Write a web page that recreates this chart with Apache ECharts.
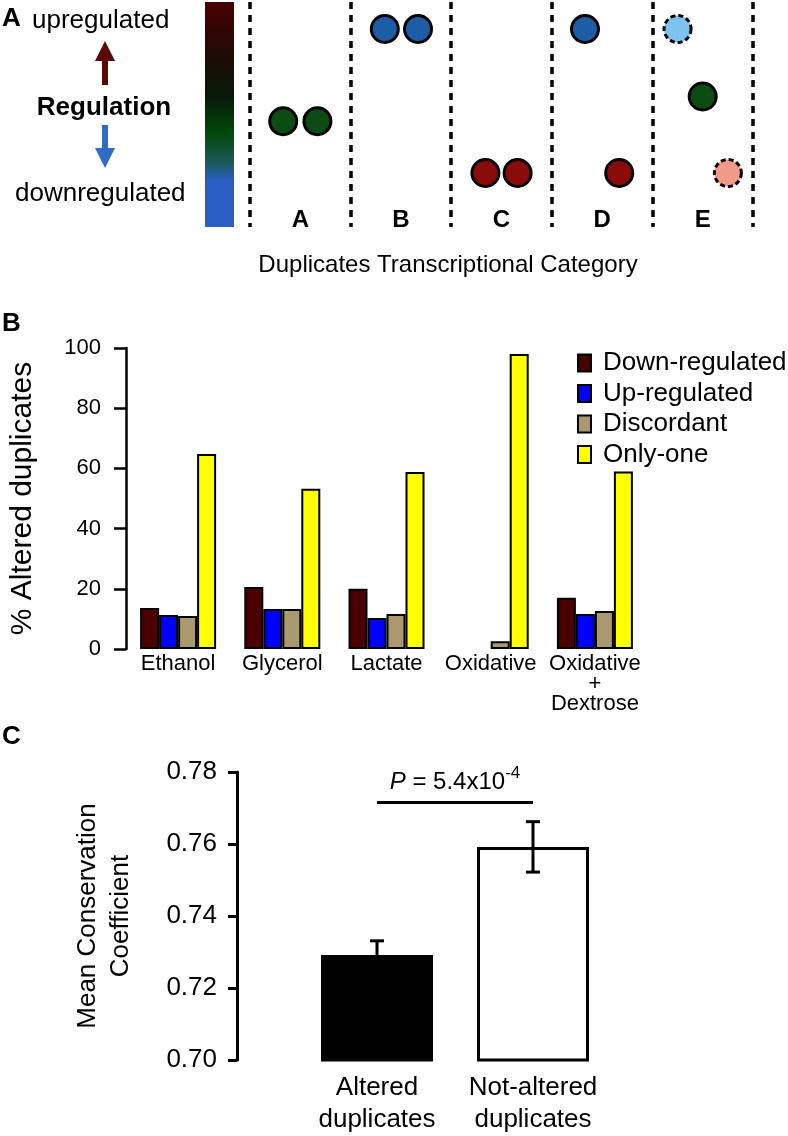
<!DOCTYPE html>
<html>
<head>
<meta charset="utf-8">
<script src="https://cdn.jsdelivr.net/npm/echarts@6/dist/echarts.min.js"></script>
<style>html,body{margin:0;padding:0;background:#fff}#c{width:788px;height:1136px}</style>
</head>
<body>
<div id="c"></div>
<script>
// ---------- Panel A data ----------
const transCategories = ['A', 'B', 'C', 'D', 'E'];
// each duplicate member: category index, slot within category band (0..1), regulation level (0 = down, 1 = up), state
const dupCategory = [0, 0, 1, 1, 2, 2, 3, 3, 4, 4, 4];
const dupSlot     = [0.33, 0.67, 0.34, 0.67, 0.34, 0.66, 0.33, 0.67, 0.25, 0.50, 0.75];
const dupLevel    = [0.47, 0.47, 0.88, 0.88, 0.24, 0.24, 0.88, 0.24, 0.88, 0.58, 0.24];
const dupState    = ['none', 'none', 'up', 'up', 'down', 'down', 'up', 'down', 'upNS', 'none', 'downNS'];

// ---------- Panel B data ----------
const conditions = ['Ethanol', 'Glycerol', 'Lactate', 'Oxidative', 'Oxidative\n+\nDextrose'];
const downRegulated = [13.6, 20.6, 20.0, null, 17.0];
const upRegulated   = [11.3, 13.3, 10.3, null, 11.6];
const discordant    = [11.0, 13.3, 11.6, 2.6, 12.6];
const onlyOne       = [64.8, 53.2, 58.8, 98.0, 59.0];

// ---------- Panel C data ----------
const dupGroups = ['Altered\nduplicates', 'Not-altered\nduplicates'];
const meanConservation = [0.7292, 0.7592];
const conservationErr  = [0.0039, 0.0070];
const pBracketLevel = 0.7717;
const pValueText = '5.4x10';
const pValueExp = '-4';

// ---------- styles ----------
const FONT = 'Liberation Sans, Arial, Helvetica, sans-serif';
const stateColor = {
  none: '#0c4b11', up: '#1d5da6', down: '#8a0b0b', upNS: '#7cc3f0', downNS: '#f29a8a'
};
const stateDashed = {upNS: true, downNS: true};
const seriesColors = ['#4b0000', '#0000ff', '#a89a6e', '#ffff00'];

const chart = echarts.init(document.getElementById('c'), null, {renderer: 'canvas'});

const scatterData = dupCategory.map((c, i) => ({
  value: [c + dupSlot[i], dupLevel[i]],
  itemStyle: {
    color: stateColor[dupState[i]],
    opacity: 1,
    borderColor: '#000',
    borderWidth: 3,
    borderType: stateDashed[dupState[i]] ? [5, 3] : 'solid'
  }
}));

const option = {
  animation: false,
  textStyle: {fontFamily: FONT, color: '#000'},
  grid: [
    {left: 250, top: 2, width: 503, height: 225},
    {left: 125, top: 348, width: 522, height: 301},
    {left: 299, top: 772, width: 312, height: 288}
  ],
  xAxis: [
    {gridIndex: 0, type: 'value', min: 0, max: 5, interval: 1, position: 'top',
      axisLine: {show: false}, axisTick: {show: false}, axisLabel: {show: false},
      splitLine: {show: true, showMinLine: true, showMaxLine: true, lineStyle: {color: '#000', width: 3.5, type: [7, 6]}}},
    {gridIndex: 0, type: 'category', data: transCategories, position: 'bottom', offset: -19,
      axisLine: {show: false}, axisTick: {show: false}, splitLine: {show: false},
      axisLabel: {margin: 0, fontSize: 24, fontWeight: 'bold', color: '#000', fontFamily: FONT}},
    {gridIndex: 1, type: 'category', data: conditions,
      axisLine: {show: false}, axisTick: {show: false},
      axisLabel: {margin: 5, fontSize: 22, lineHeight: 20, color: '#000', fontFamily: FONT, interval: 0}},
    {gridIndex: 2, type: 'category', data: dupGroups,
      axisLine: {show: false}, axisTick: {show: false},
      axisLabel: {margin: 12, fontSize: 26, lineHeight: 32, color: '#000', fontFamily: FONT, interval: 0}}
  ],
  yAxis: [
    {gridIndex: 0, type: 'value', min: 0, max: 1, show: false},
    {gridIndex: 1, type: 'value', min: 0, max: 100, interval: 20,
      axisLine: {show: true, lineStyle: {color: '#000', width: 2.5}},
      axisTick: {show: true, length: 12, lineStyle: {color: '#000', width: 2.5}},
      axisLabel: {margin: 25, fontSize: 22, color: '#000', fontFamily: FONT},
      splitLine: {show: false},
      name: '% Altered duplicates', nameLocation: 'middle', nameGap: 88,
      nameTextStyle: {fontSize: 30, color: '#000', fontFamily: FONT}},
    {gridIndex: 2, type: 'value', min: 0.70, max: 0.78, interval: 0.02, offset: 62,
      axisLine: {show: true, lineStyle: {color: '#000', width: 3}},
      axisTick: {show: true, length: 9, lineStyle: {color: '#000', width: 3}},
      axisLabel: {margin: 20, fontSize: 26, color: '#000', fontFamily: FONT, formatter: v => v.toFixed(2)},
      splitLine: {show: false},
      name: 'Mean Conservation\nCoefficient', nameLocation: 'middle', nameGap: 100,
      nameTextStyle: {fontSize: 26, lineHeight: 33, color: '#000', fontFamily: FONT}}
  ],
  legend: {
    show: true, orient: 'vertical', left: 572, top: 345,
    data: ['Down-regulated', 'Up-regulated', 'Discordant', 'Only-one'],
    icon: 'rect', itemWidth: 13, itemHeight: 17, itemGap: 4.5,
    itemStyle: {borderColor: '#000', borderWidth: 2},
    textStyle: {fontSize: 26, lineHeight: 26, color: '#000', fontFamily: FONT, padding: [0, 0, 0, 7]}
  },
  graphic: [
    {type: 'text', left: 2, top: 6, style: {text: 'A', font: 'bold 26px ' + FONT, fill: '#000'}},
    {type: 'text', left: 32, top: 8, style: {text: 'upregulated', font: '26px ' + FONT, fill: '#000'}},
    {type: 'rect', shape: {x: 102, y: 58, width: 6, height: 27}, style: {fill: '#5b0a0a'}},
    {type: 'polygon', shape: {points: [[95, 61], [105, 41], [115, 61]]}, style: {fill: '#5b0a0a'}},
    {type: 'text', x: 104, y: 108, style: {text: 'Regulation', font: 'bold 26px ' + FONT, fill: '#000', align: 'center', verticalAlign: 'middle'}},
    {type: 'rect', shape: {x: 102, y: 125, width: 6, height: 26}, style: {fill: '#2f6bc7'}},
    {type: 'polygon', shape: {points: [[95, 148], [105, 168], [115, 148]]}, style: {fill: '#2f6bc7'}},
    {type: 'text', left: 15, top: 181, style: {text: 'downregulated', font: '26px ' + FONT, fill: '#000'}},
    {type: 'rect', shape: {x: 205, y: 2, width: 29, height: 225},
      style: {fill: new echarts.graphic.LinearGradient(0, 0, 0, 1, [
        {offset: 0, color: '#4a0000'},
        {offset: 0.25, color: '#1c0c06'},
        {offset: 0.42, color: '#081a08'},
        {offset: 0.58, color: '#00480a'},
        {offset: 0.71, color: '#1a5a55'},
        {offset: 0.79, color: '#2a5ec0'},
        {offset: 1, color: '#2a5ec0'}
      ])}},
    {type: 'text', x: 448, y: 265, style: {text: 'Duplicates Transcriptional Category', font: '24px ' + FONT, fill: '#000', align: 'center', verticalAlign: 'middle'}},
    {type: 'text', left: 2, top: 311, style: {text: 'B', font: 'bold 26px ' + FONT, fill: '#000'}},
    {type: 'text', left: 2, top: 724, style: {text: 'C', font: 'bold 26px ' + FONT, fill: '#000'}}
  ],
  series: [
    {type: 'scatter', xAxisIndex: 0, yAxisIndex: 0, symbol: 'circle', symbolSize: 27, data: scatterData, z: 5},
    {name: 'Down-regulated', type: 'bar', xAxisIndex: 2, yAxisIndex: 1, data: downRegulated, barWidth: 19, barGap: '0%',
      itemStyle: {color: seriesColors[0], borderColor: '#000', borderWidth: 2}},
    {name: 'Up-regulated', type: 'bar', xAxisIndex: 2, yAxisIndex: 1, data: upRegulated, barWidth: 19, barGap: '0%',
      itemStyle: {color: seriesColors[1], borderColor: '#000', borderWidth: 2}},
    {name: 'Discordant', type: 'bar', xAxisIndex: 2, yAxisIndex: 1, data: discordant, barWidth: 19, barGap: '0%',
      itemStyle: {color: seriesColors[2], borderColor: '#000', borderWidth: 2}},
    {name: 'Only-one', type: 'bar', xAxisIndex: 2, yAxisIndex: 1, data: onlyOne, barWidth: 19, barGap: '0%',
      itemStyle: {color: seriesColors[3], borderColor: '#000', borderWidth: 2}},
    {type: 'bar', xAxisIndex: 3, yAxisIndex: 2, barWidth: 112,
      data: meanConservation.map((v, i) => ({value: v, itemStyle: {color: i === 0 ? '#000' : '#fff', borderColor: '#000', borderWidth: 3}}))},
    {type: 'custom', xAxisIndex: 3, yAxisIndex: 2, z: 10,
      data: meanConservation.map((v, i) => [i, v, conservationErr[i]]),
      encode: {x: 0, y: 1},
      renderItem: function (params, api) {
        const c = api.value(0), m = api.value(1), e = api.value(2);
        const hi = api.coord([c, m + e]);
        const lo = api.coord([c, m - e]);
        const cap = 7;
        const st = {stroke: '#000', lineWidth: 3};
        return {type: 'group', children: [
          {type: 'line', shape: {x1: hi[0], y1: hi[1], x2: lo[0], y2: lo[1]}, style: st},
          {type: 'line', shape: {x1: hi[0] - cap, y1: hi[1], x2: hi[0] + cap, y2: hi[1]}, style: st},
          {type: 'line', shape: {x1: lo[0] - cap, y1: lo[1], x2: lo[0] + cap, y2: lo[1]}, style: st}
        ]};
      },
      markLine: {
        silent: true, symbol: 'none',
        lineStyle: {color: '#000', width: 3, type: 'solid'},
        label: {
          show: true, position: 'middle', distance: 2,
          formatter: '{i|P} = ' + pValueText + '{s|' + pValueExp + '}',
          fontSize: 24, color: '#000', fontFamily: FONT,
          rich: {
            i: {fontStyle: 'italic', fontSize: 24, fontFamily: FONT, color: '#000'},
            s: {fontSize: 17, fontFamily: FONT, color: '#000', padding: [0, 0, 18, 0]}
          }
        },
        data: [[{coord: [0, pBracketLevel]}, {coord: [1, pBracketLevel]}]]
      }
    }
  ]
};
chart.setOption(option);
</script>
</body>
</html>
